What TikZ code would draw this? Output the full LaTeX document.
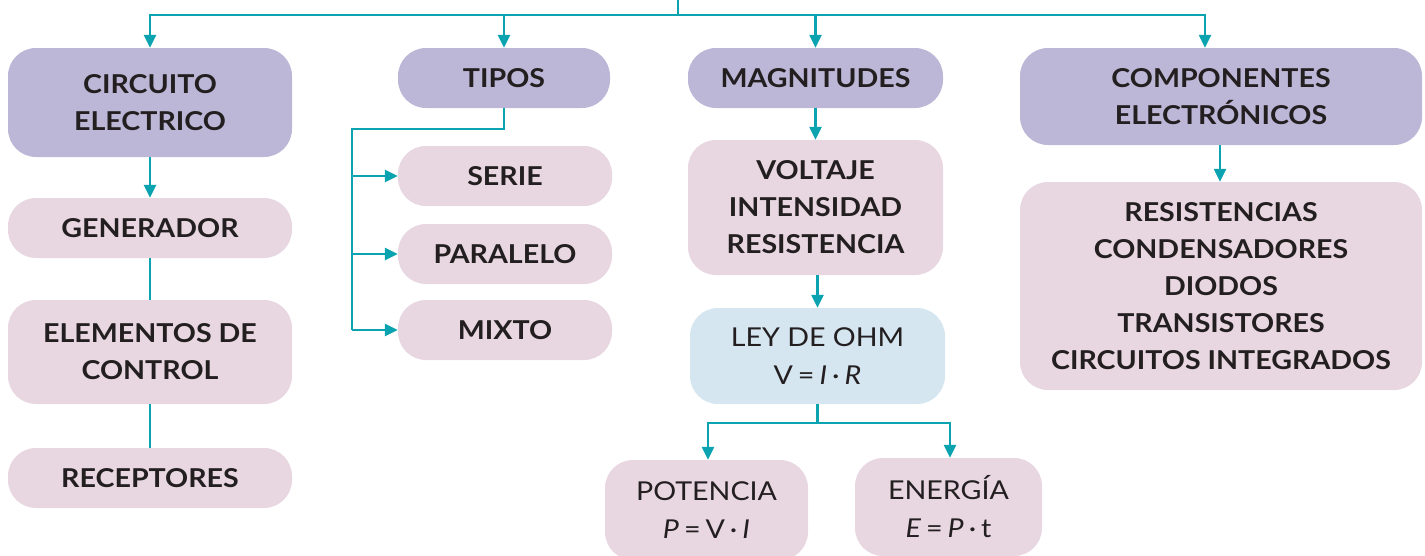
\documentclass[tikz,border=0pt]{standalone}
\usepackage{fontspec}
\setmainfont[FakeStretch=1.1]{Lato}
\usetikzlibrary{arrows.meta}
\definecolor{boxpurple}{HTML}{BCB7D6}
\definecolor{boxpink}{HTML}{E8D7E0}
\definecolor{boxblue}{HTML}{D5E6F0}
\definecolor{teal}{HTML}{0AA3AF}
\definecolor{ink}{HTML}{231F20}
\newcommand{\eqsp}{\hspace{5pt}}
\begin{document}
\begin{tikzpicture}[x=1pt,y=-1pt,
  box/.style={rounded corners=28pt, align=center, text=ink, inner sep=0pt,
    font=\fontsize{26}{37}\selectfont\bfseries},
  headbox/.style={box, fill=boxpurple},
  itembox/.style={box, fill=boxpink},
  formbox/.style={box, font=\fontsize{26}{38}\selectfont},
  conn/.style={draw=teal, line width=2.4pt},
  arr/.style={conn, -{Triangle[length=13pt,width=12pt]}}]
\useasboundingbox (0,0) rectangle (1425,555);
% nodes
\node[headbox, minimum width=284pt, minimum height=109pt] (circ) at (150,102.5) {CIRCUITO\\ELECTRICO};
\node[itembox, minimum width=284pt, minimum height=60pt] (gen) at (150,228) {GENERADOR};
\node[itembox, minimum width=284pt, minimum height=104pt] (elem) at (150,352) {ELEMENTOS DE\\CONTROL};
\node[itembox, minimum width=284pt, minimum height=60pt] (rec) at (150,478) {RECEPTORES};
\node[headbox, minimum width=212pt, minimum height=60pt] (tipos) at (504,78) {TIPOS};
\node[itembox, minimum width=214pt, minimum height=60pt] (serie) at (505,176) {SERIE};
\node[itembox, minimum width=214pt, minimum height=60pt] (paralelo) at (505,254) {PARALELO};
\node[itembox, minimum width=214pt, minimum height=60pt] (mixto) at (505,330) {MIXTO};
\node[headbox, minimum width=255pt, minimum height=60pt] (mag) at (815.5,78) {MAGNITUDES};
\node[itembox, minimum width=255pt, minimum height=135pt] (volt) at (815.5,207.5) {VOLTAJE\\INTENSIDAD\\RESISTENCIA};
\node[formbox, fill=boxblue, minimum width=255pt, minimum height=96pt] (ohm) at (817.5,356) {LEY DE OHM\\V\eqsp=\eqsp\textit{I}\eqsp·\eqsp\textit{R}};
\node[formbox, fill=boxpink, minimum width=203pt, minimum height=100pt] (pot) at (706.5,510) {POTENCIA\\\textit{P}\eqsp=\eqsp V\eqsp·\eqsp\textit{I}};
\node[formbox, fill=boxpink, minimum width=187pt, minimum height=98pt] (ener) at (948.5,507) {ENERGÍA\\\textit{E}\eqsp=\eqsp\textit{P}\eqsp·\eqsp t};
\node[headbox, minimum width=402pt, minimum height=97pt] (comp) at (1221,96.5) {COMPONENTES\\ELECTRÓNICOS};
\node[itembox, minimum width=402pt, minimum height=208pt] (res) at (1221,286) {RESISTENCIAS\\CONDENSADORES\\DIODOS\\TRANSISTORES\\CIRCUITOS INTEGRADOS};
% connectors
\coordinate (top) at (678,0);
\draw[conn] (top) -- ++(0,15) coordinate (hub);
\draw[arr] (hub) -| (circ.north);
\draw[arr] (hub) -| (tipos.north);
\draw[arr] (hub) -| (mag.north);
\draw[arr] (hub) -| ([xshift=-16pt]comp.north);
\draw[arr] (circ) -- (gen);
\draw[conn] (gen) -- (elem);
\draw[conn] (elem) -- (rec);
\coordinate (tb) at (352,129);
\draw[conn] (tipos.south) |- (tb) -- (tb |- mixto.west);
\draw[arr] (tb |- serie.west) -- (serie.west);
\draw[arr] (tb |- paralelo.west) -- (paralelo.west);
\draw[arr] (tb |- mixto.west) -- (mixto.west);
\draw[arr] (mag) -- (volt);
\draw[arr] ([xshift=2pt]volt.south) -- ([xshift=0pt]ohm.north);
\draw[conn] (ohm.south) -- ++(0,19) coordinate (ob);
\draw[arr] (ob) -| ([xshift=1.5pt]pot.north);
\draw[arr] (ob) -| ([xshift=1.5pt]ener.north);
\draw[arr] ([xshift=-1pt]comp.south) -- ([xshift=-1pt]res.north);
\end{tikzpicture}
\end{document}
